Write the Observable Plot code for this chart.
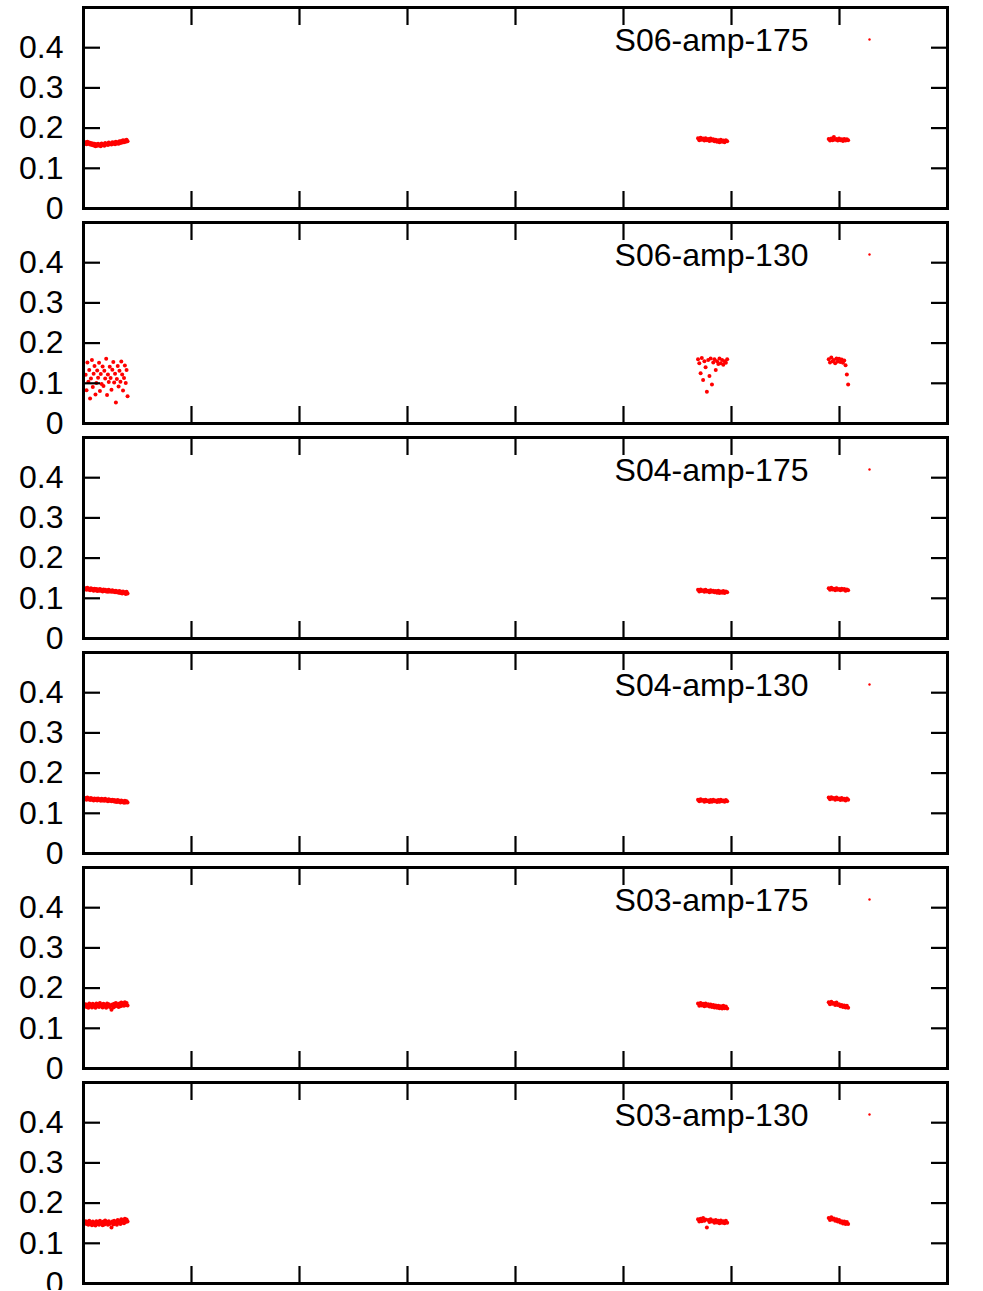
<!DOCTYPE html>
<html><head><meta charset="utf-8">
<script src="https://cdn.jsdelivr.net/npm/d3@7"></script>
<script src="https://cdn.jsdelivr.net/npm/@observablehq/plot@0.6"></script>
<style>
html,body{margin:0;padding:0;background:#fff;overflow:hidden;}
#chart svg{display:block;overflow:visible;}
</style></head><body><div id="chart"></div>
<script>
// sample times (three measurement campaigns), same for every series
const times = [
  0.020,0.028,0.036,0.045,0.053,0.061,0.069,0.078,0.086,0.094,0.102,0.111,0.119,0.127,0.135,0.144,
  0.152,0.160,0.168,0.177,0.185,0.193,0.201,0.210,0.218,0.226,0.234,0.243,0.251,0.259,0.267,0.276,
  0.284,0.292,0.300,0.309,0.317,0.325,0.333,0.342,0.350,0.358,0.366,0.375,0.383,0.391,0.399,0.408,
  5.690,5.702,5.714,5.725,5.737,5.749,5.760,5.772,5.784,5.796,5.807,5.819,
  5.831,5.842,5.854,5.866,5.878,5.889,5.901,5.913,5.924,5.936,5.948,5.960,
  6.900,6.912,6.924,6.936,6.948,6.960,6.972,6.984,6.996,7.008,7.020,7.032,7.044,7.056,7.068,7.080
];
const seriesNames = ["S06-amp-175","S06-amp-130","S04-amp-175","S04-amp-130","S03-amp-175","S03-amp-130"];

const s06amp175 = [
  .165,.160,.166,.161,.164,.159,.163,.158,.162,.157,.161,.155,.160,.156,.161,.157,.159,.155,.162,.158,
  .160,.156,.163,.159,.161,.158,.164,.160,.162,.159,.165,.161,.164,.160,.166,.162,.165,.161,.167,.163,
  .168,.164,.170,.165,.169,.166,.171,.167,
  .175,.170,.176,.171,.174,.169,.175,.170,.173,.168,.174,.169,.172,.167,.171,.166,.170,.165,.171,.166,.169,.165,.170,.167,
  .173,.169,.174,.170,.178,.171,.173,.169,.174,.170,.172,.168,.173,.169,.172,.170
];
const s06amp130 = [
  .121,.083,.152,.104,.133,.062,.112,.158,.091,.124,.143,.072,.101,.132,.114,.151,.081,.123,.098,.142,
  .093,.131,.112,.161,.071,.122,.103,.141,.113,.084,.134,.153,.102,.124,.052,.111,.143,.092,.131,.104,
  .154,.122,.082,.113,.144,.101,.133,.068,
  .160,.150,.125,.163,.108,.155,.140,.079,.158,.118,.162,.097,.152,.160,.133,.155,.148,.162,.150,.158,.146,.155,.151,.160,
  .160,.152,.164,.155,.158,.150,.162,.154,.161,.153,.159,.151,.157,.145,.122,.097
];
const s04amp175 = [
  .125,.121,.126,.122,.124,.120,.125,.121,.123,.119,.124,.120,.123,.118,.122,.119,.123,.119,.121,.117,
  .122,.118,.121,.117,.120,.116,.121,.117,.119,.116,.120,.116,.118,.115,.119,.115,.117,.114,.118,.113,
  .116,.112,.117,.113,.115,.111,.116,.112,
  .121,.117,.122,.118,.120,.116,.121,.117,.119,.115,.120,.116,.119,.115,.118,.114,.119,.113,.117,.114,.118,.113,.117,.115,
  .125,.121,.126,.122,.124,.120,.125,.121,.123,.120,.124,.121,.123,.119,.122,.120
];
const s04amp130 = [
  .138,.134,.139,.135,.137,.133,.138,.134,.136,.132,.137,.133,.136,.132,.137,.133,.135,.131,.136,.132,
  .135,.131,.136,.132,.134,.130,.135,.131,.133,.130,.134,.130,.133,.129,.132,.128,.133,.129,.131,.127,
  .132,.128,.130,.126,.131,.127,.130,.127,
  .134,.130,.135,.131,.133,.129,.134,.130,.132,.128,.133,.129,.134,.130,.132,.128,.133,.129,.134,.130,.132,.129,.133,.130,
  .139,.135,.140,.136,.138,.134,.139,.135,.137,.133,.138,.134,.136,.132,.137,.134
];
const s03amp175 = [
  .160,.153,.158,.151,.162,.155,.159,.152,.161,.154,.158,.151,.162,.155,.160,.153,.163,.156,.159,.152,
  .161,.154,.158,.151,.162,.155,.160,.153,.157,.146,.159,.152,.161,.154,.163,.156,.160,.153,.162,.155,
  .164,.157,.162,.156,.165,.158,.163,.157,
  .162,.156,.163,.157,.161,.155,.162,.156,.160,.154,.159,.153,.158,.152,.157,.151,.156,.150,.155,.149,.156,.150,.154,.149,
  .165,.160,.166,.161,.163,.158,.164,.158,.160,.155,.158,.153,.157,.152,.156,.151
];
const s03amp130 = [
  .155,.148,.153,.146,.156,.149,.152,.145,.154,.147,.151,.144,.155,.148,.153,.146,.156,.149,.152,.145,
  .154,.147,.157,.150,.153,.146,.155,.148,.151,.139,.154,.147,.156,.149,.153,.146,.158,.151,.155,.148,
  .160,.152,.157,.150,.161,.153,.159,.154,
  .160,.154,.161,.155,.163,.156,.159,.139,.158,.153,.160,.154,.157,.151,.158,.152,.156,.150,.157,.151,.155,.150,.156,.151,
  .163,.158,.165,.159,.162,.156,.160,.154,.158,.152,.155,.149,.154,.148,.153,.148
];
const seriesValues = [s06amp175, s06amp130, s04amp175, s04amp130, s03amp175, s03amp130];
const yTicks = [0, 0.1, 0.2, 0.3, 0.4];
const xTicks = [0, 1, 2, 3, 4, 5, 6, 7, 8];

const font = "'Liberation Sans', Arial, Helvetica, sans-serif";
seriesNames.forEach((name, k) => {
  const data = times.map((t, i) => ({t, v: seriesValues[k][i]}));
  const svg = Plot.plot({
    width: 983, height: 215,
    marginLeft: 83, marginRight: 36, marginTop: 7, marginBottom: 7,
    style: {fontFamily: font, fontSize: "32px", color: "#000", background: "none", overflow: "visible"},
    x: {domain: [0, 8]},
    y: {domain: [0, 0.5]},
    marks: [
      Plot.dot(data, {x: "t", y: "v", r: 2, fill: "#ff0000"}),
      Plot.axisY(yTicks, {anchor: "left", label: null, tickSize: -17, tickPadding: 37, strokeWidth: 2.2, fontSize: 32,
        tickFormat: d => d === 0 ? "0" : d.toFixed(1)}),
      Plot.axisY(yTicks, {anchor: "right", label: null, tickSize: -17, strokeWidth: 2.2, tickFormat: () => ""}),
      Plot.axisX(xTicks, {anchor: "top", label: null, tickSize: -17, strokeWidth: 2.2, tickFormat: () => ""}),
      Plot.axisX(xTicks, {anchor: "bottom", label: null, tickSize: -17, strokeWidth: 2.2, tickFormat: () => ""}),
      Plot.frame({stroke: "#000", strokeWidth: 3}),
      Plot.text([name], {frameAnchor: "top-right", dx: -139, dy: 33, textAnchor: "end", lineAnchor: "middle", fontSize: 32, fill: "#000"}),
      Plot.dot([name], {frameAnchor: "top-right", x: null, y: null, dx: -78, dy: 32, r: 1.2, fill: "#ff0000"})
    ]
  });
  document.getElementById("chart").append(svg);
});
</script></body></html>
